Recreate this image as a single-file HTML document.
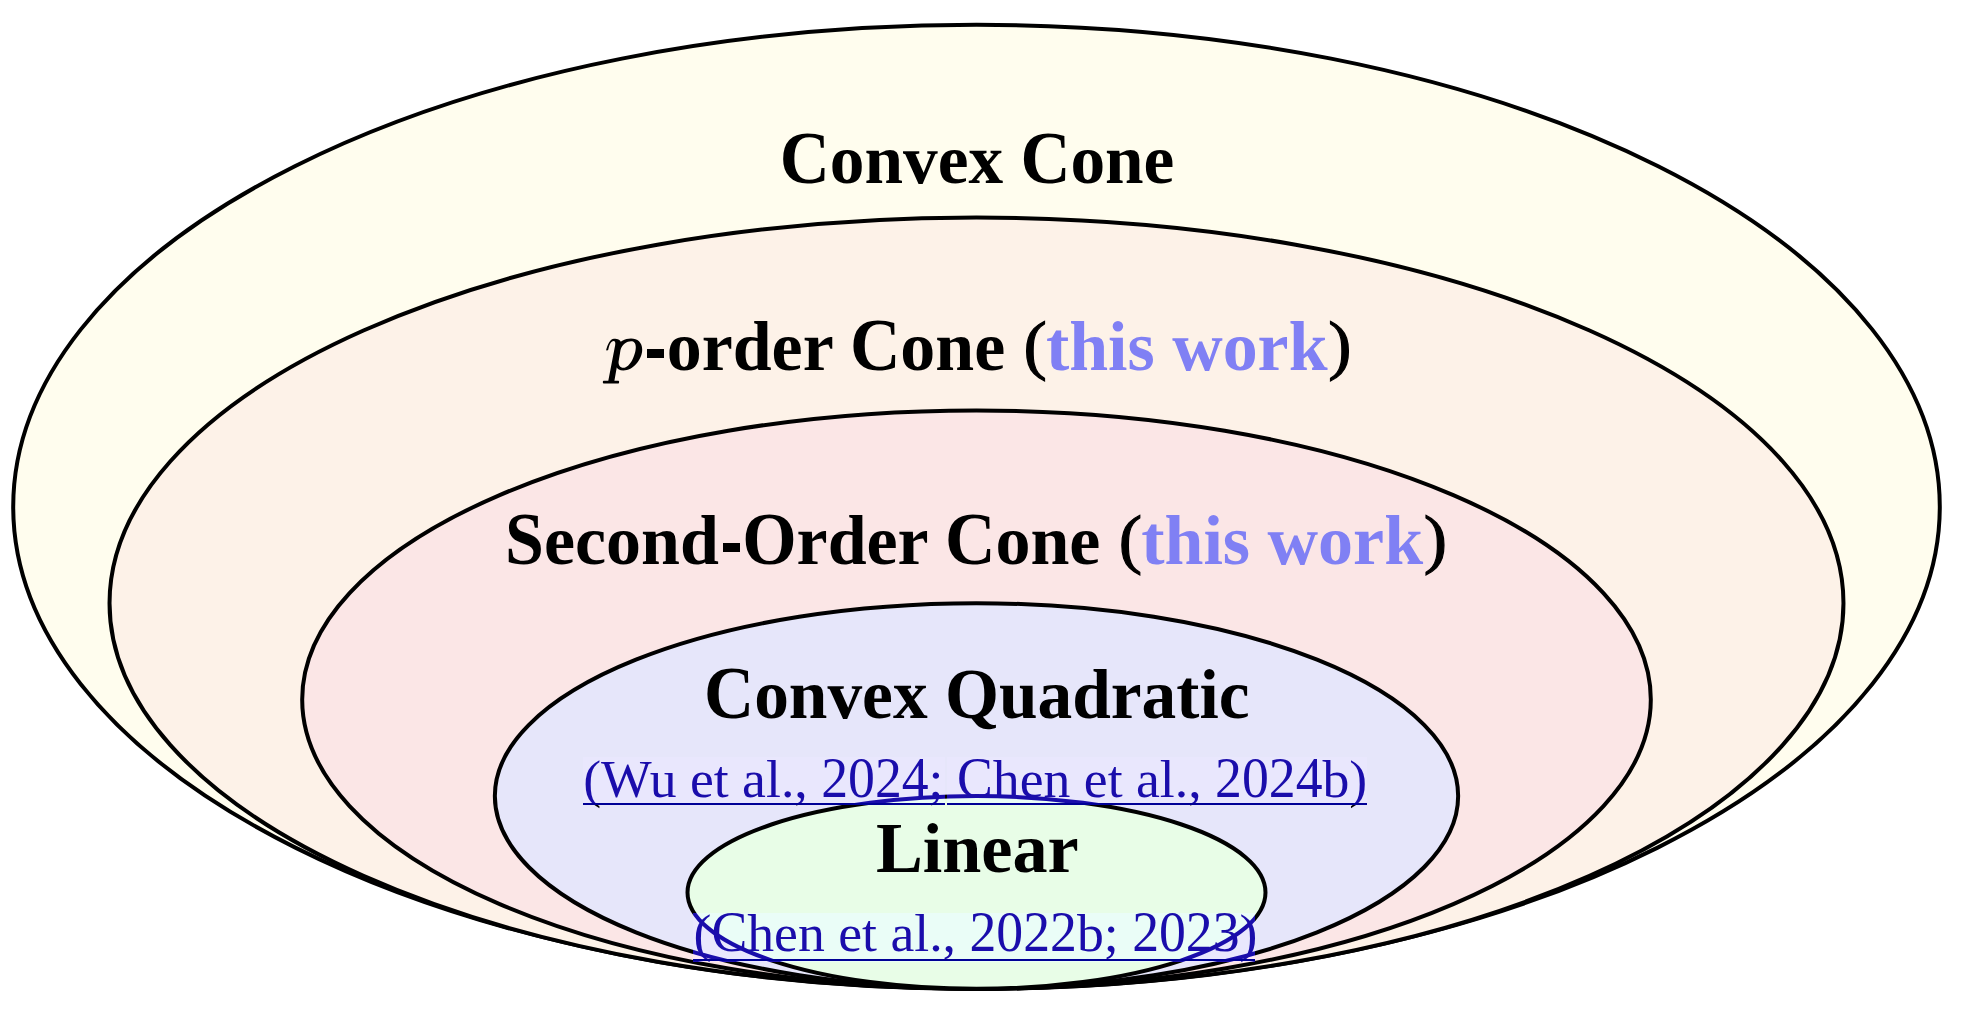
<!DOCTYPE html>
<html>
<head>
<meta charset="utf-8">
<style>
html,body{margin:0;padding:0;background:#ffffff;}
body{width:1971px;height:1017px;position:relative;overflow:hidden;isolation:isolate;}
svg{position:absolute;left:0;top:0;}
.t{position:absolute;white-space:pre;font-family:"Liberation Serif",serif;font-weight:bold;line-height:1;color:#000;}
.c{position:absolute;white-space:pre;font-family:"Liberation Serif",serif;font-weight:normal;line-height:1;color:#000;}
.w{color:#8080f4;}
.pi{font-style:italic;font-weight:normal;}
.cap{display:inline-block;transform:scaleY(1.045);transform-origin:0 83.74%;}
.cd{display:inline-block;transform:scaleY(1.045);transform-origin:0 83.74%;}
.par{display:inline-block;font-weight:normal;-webkit-text-stroke:1.2px #000;transform:translate(0.8px,0.8px) scaleY(0.925);transform-origin:0 15%;}
.hy{color:transparent;}
.hb{position:absolute;background:#000;}
.ov{position:absolute;background:rgb(26,13,171);mix-blend-mode:screen;}
.ul{position:absolute;background:rgb(0,0,150);}
</style>
</head>
<body>
<svg width="1971" height="1017" viewBox="0 0 1971 1017">
  <g stroke="#000" stroke-width="4">
    <ellipse cx="976.5" cy="506.80" rx="963.30" ry="482.00" fill="#fffdee"/>
    <ellipse cx="976.5" cy="603.20" rx="866.97" ry="385.60" fill="#fdf2e8"/>
    <ellipse cx="976.5" cy="699.60" rx="674.31" ry="289.20" fill="#fbe6e6"/>
    <ellipse cx="976.5" cy="796.00" rx="481.65" ry="192.80" fill="#e6e6fa"/>
    <ellipse cx="976.5" cy="892.40" rx="288.99" ry="96.40" fill="#e8fde7"/>
  </g>
</svg>
<div class="t" id="t1" style="left:779.75px;top:125px;font-size:69.3px;"><span class="cap" style="transform:scaleY(1.065)">C</span>onvex <span class="cap" style="transform:scaleY(1.065)">C</span>one</div>
<div class="t" id="t2" style="left:643.5px;top:312px;font-size:69.9px;"><span class="hy">-</span>order <span class="cap" style="transform:scaleY(1.065)">C</span>one <span class="par">(</span><span class="w">this work</span><span class="par">)</span></div>
<svg id="p1" style="left:598px;top:330px;" width="52" height="60" viewBox="0 0 52 60"><path fill="#000" d="M8.2 19.8C9.5 15 12 8.8 16 8.8C19.5 8.8 23.5 10 23 13.5L16.4 50.8L20.5 50.8C21.4 50.8 21.4 53.5 20.5 53.5L5.5 53.5C4.6 53.5 4.6 50.8 5.5 50.8L10.3 50.8L17.2 15C17.6 12.5 17 11 15.6 11C13 11 11.2 15 10.3 19.6C10 20.8 8 20.8 8.2 19.8Z"/><path fill="#000" fill-rule="evenodd" d="M17.5 17C21 12 27 8.6 33 8.6C39.5 8.6 44.2 12.5 44.2 19.5C44.2 29.5 35 40.5 25.4 40.5C21.5 40.5 18.8 38.5 17.5 36Z M22.5 20C24 14.5 29 11.2 33 11.2C36 11.2 37.8 13 37.8 17C37.8 25 32 37.8 25.4 37.8C22 37.8 20.3 35 20.6 31.5Z"/></svg>
<div class="t" id="t3" style="left:505px;top:506px;font-size:69.97px;"><span class="cap">S</span>econd<span class="hy">-</span><span class="cap">O</span>rder <span class="cap" style="transform:scaleY(1.065)">C</span>one <span class="par">(</span><span class="w">this work</span><span class="par">)</span></div>
<div class="t" id="t4" style="left:704px;top:660px;font-size:69.4px;"><span class="cap" style="transform:scaleY(1.065)">C</span>onvex <span class="cap">Q</span>uadratic</div>
<div class="t" id="t5" style="left:876px;top:813px;font-size:70.2px;"><span class="cap" style="transform:scaleY(1.02)">L</span>inear</div>
<div class="c" id="c1" style="left:583.2px;top:753px;font-size:53.73px;">(Wu et al., <span class="cd">2</span><span class="cd">0</span><span class="cd">2</span><span class="cd">4</span>; <span class="cd">C</span>hen et al., <span class="cd">2</span><span class="cd">0</span><span class="cd">2</span><span class="cd">4</span>b)</div>
<div class="c" id="c2" style="left:693.5px;top:907px;font-size:53.73px;">(<span class="cd">C</span>hen et al., <span class="cd">2</span><span class="cd">0</span><span class="cd">2</span><span class="cd">2</span>b; <span class="cd">2</span><span class="cd">0</span><span class="cd">2</span><span class="cd">3</span>)</div>
<div class="hb" style="left:646.5px;top:349.3px;width:17.7px;height:8.3px;"></div>
<div class="hb" style="left:722.8px;top:543.2px;width:17.7px;height:8.7px;"></div>
<div class="ov" style="left:583px;top:757px;width:362px;height:48px;"></div>
<div class="ov" style="left:947px;top:757px;width:420px;height:48px;"></div>
<div class="ov" style="left:693px;top:913px;width:562px;height:48.5px;"></div>
<div class="ul" style="left:583px;top:803px;width:362px;height:2px;"></div>
<div class="ul" style="left:947px;top:803px;width:420px;height:2px;"></div>
<div class="ul" style="left:693px;top:959px;width:562px;height:2px;"></div>
</body>
</html>
